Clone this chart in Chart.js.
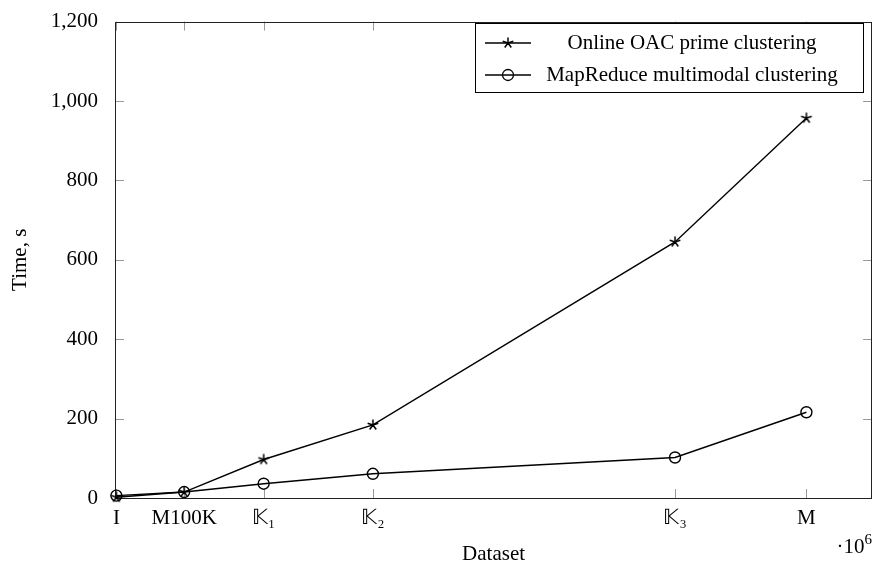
<!DOCTYPE html>
<html>
<head>
<meta charset="utf-8">
<script src="https://cdn.jsdelivr.net/npm/chart.js@4"></script>
<style>
  html, body { margin: 0; padding: 0; background: #fff; }
  #wrap { width: 879px; height: 569px; position: relative; }
</style>
</head>
<body>
<div id="wrap"><canvas id="timeChart"></canvas></div>
<script>
  // values
  const datasetSizes = [2000, 100000, 215000, 373000, 810000, 1000000];
  const datasetLabels = ["I", "M100K", "𝕂₁", "𝕂₂", "𝕂₃", "M"];
  const oacTimes = [2, 15, 97, 184, 645, 957];
  const mapReduceTimes = [6, 15, 36, 61, 102, 216];
  const yTicks = [0, 200, 400, 600, 800, 1000, 1200];

  const FONT = "'Liberation Serif', 'Times New Roman', serif";
  const FS = 21;

  // tikz style 5-ray star mark
  function makeStar() {
    const c = document.createElement("canvas");
    c.width = 14;
    c.height = 14;
    const g = c.getContext("2d");
    g.strokeStyle = "#000";
    g.lineWidth = 1.5;
    g.beginPath();
    for (let i = 0; i < 5; i++) {
      const a = (90 + i * 72) * Math.PI / 180;
      g.moveTo(7, 7);
      g.lineTo(7 + 5.6 * Math.cos(a), 7 - 5.6 * Math.sin(a));
    }
    g.stroke();
    return c;
  }
  const starMark = makeStar();

  const pointsOf = (ys) => ys.map((y, i) => ({ x: datasetSizes[i], y: y }));

  // frame and inward ticks like pgfplots
  const frameTicks = {
    id: "frameTicks",
    beforeDatasetsDraw(chart) {
      const { ctx, chartArea: a, scales } = chart;
      ctx.save();
      ctx.strokeStyle = "#999";
      ctx.lineWidth = 1;
      ctx.beginPath();
      datasetSizes.forEach((v) => {
        const px = Math.round(scales.x.getPixelForValue(v)) + 0.5;
        ctx.moveTo(px, a.bottom);
        ctx.lineTo(px, a.bottom - 9);
        ctx.moveTo(px, a.top);
        ctx.lineTo(px, a.top + 9);
      });
      yTicks.forEach((v) => {
        const py = Math.round(scales.y.getPixelForValue(v)) + 0.5;
        ctx.moveTo(a.left, py);
        ctx.lineTo(a.left + 9, py);
        ctx.moveTo(a.right, py);
        ctx.lineTo(a.right - 9, py);
      });
      ctx.stroke();
      ctx.strokeStyle = "#222";
      ctx.strokeRect(
        Math.round(a.left) + 0.5,
        Math.round(a.top) + 0.5,
        Math.round(a.right - a.left) - 1,
        Math.round(a.bottom - a.top)
      );
      ctx.restore();
    },
    afterDraw(chart) {
      const { ctx, chartArea: a } = chart;
      ctx.save();
      // exponent label under the x axis
      ctx.fillStyle = "#000";
      ctx.textBaseline = "middle";
      ctx.font = "15px " + FONT;
      const expW = ctx.measureText("6").width;
      ctx.textAlign = "left";
      ctx.fillText("6", a.right - expW, 540);
      ctx.font = FS + "px " + FONT;
      ctx.textAlign = "right";
      ctx.fillText("·10", a.right - expW, 547);

      // legend box
      const box = { x: 475.5, y: 23.5, w: 388, h: 69 };
      ctx.fillStyle = "#fff";
      ctx.fillRect(box.x, box.y, box.w, box.h);
      ctx.strokeStyle = "#000";
      ctx.lineWidth = 1;
      ctx.strokeRect(box.x, box.y, box.w, box.h);
      const rows = [43, 75];
      chart.data.datasets.forEach((ds, i) => {
        const y = rows[i];
        ctx.strokeStyle = "#000";
        ctx.lineWidth = 1.3;
        ctx.beginPath();
        ctx.moveTo(485, y);
        ctx.lineTo(531, y);
        ctx.stroke();
        if (ds.pointStyle === "circle") {
          ctx.beginPath();
          ctx.arc(508, y, 5.5, 0, Math.PI * 2);
          ctx.stroke();
        } else {
          ctx.drawImage(starMark, 508 - 7, y - 7);
        }
        ctx.fillStyle = "#000";
        ctx.font = FS + "px " + FONT;
        ctx.textAlign = "center";
        ctx.textBaseline = "middle";
        ctx.fillText(ds.label, 692, y);
      });
      ctx.restore();
    },
  };

  const chart = new Chart(document.getElementById("timeChart"), {
    type: "line",
    data: {
      datasets: [
        {
          label: "Online OAC prime clustering",
          data: pointsOf(oacTimes),
          borderColor: "#000",
          borderWidth: 1.4,
          pointStyle: starMark,
          pointRadius: 5,
          clip: false,
        },
        {
          label: "MapReduce multimodal clustering",
          data: pointsOf(mapReduceTimes),
          borderColor: "#000",
          borderWidth: 1.4,
          backgroundColor: "rgba(0,0,0,0)",
          pointStyle: "circle",
          pointRadius: 5.5,
          pointBorderWidth: 1.4,
          pointBorderColor: "#000",
          pointBackgroundColor: "rgba(0,0,0,0)",
          clip: false,
        },
      ],
    },
    options: {
      responsive: true,
      maintainAspectRatio: false,
      animation: false,
      layout: {
        padding: { top: 13, right: 4, left: 0, bottom: 0 },
      },
      plugins: {
        legend: { display: false },
        tooltip: { enabled: false },
      },
      scales: {
        x: {
          type: "linear",
          min: 0,
          max: 1095000,
          grid: { display: false },
          border: { display: false },
          afterBuildTicks: (scale) => {
            scale.ticks = datasetSizes.map((v) => ({ value: v }));
          },
          afterFit: (scale) => {
            scale.height = 71;
          },
          ticks: {
            autoSkip: false,
            maxRotation: 0,
            padding: 0,
            color: "#000",
            font: { family: FONT, size: FS },
            callback: (value, index) => datasetLabels[index],
          },
          title: {
            display: true,
            text: "Dataset",
            color: "#000",
            font: { family: FONT, size: FS },
            padding: { top: 0, bottom: 2 },
          },
        },
        y: {
          min: 0,
          max: 1200,
          grid: { display: false },
          border: { display: false },
          afterFit: (scale) => {
            scale.width = 115;
          },
          ticks: {
            stepSize: 200,
            padding: 9,
            color: "#000",
            font: { family: FONT, size: FS },
          },
          title: {
            display: true,
            text: "Time, s",
            color: "#000",
            font: { family: FONT, size: FS },
            padding: { top: 8, bottom: 0 },
          },
        },
      },
    },
    plugins: [frameTicks],
  });
</script>
</body>
</html>
